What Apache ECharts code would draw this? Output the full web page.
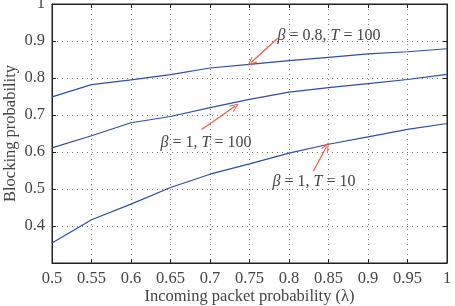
<!DOCTYPE html>
<html lang="en">
<head>
  <meta charset="UTF-8">
  <title>Blocking probability</title>
  <script src="https://cdn.jsdelivr.net/npm/echarts@6/dist/echarts.min.js"></script>
  <style>html,body{margin:0;padding:0;background:#fff;}</style>
</head>
<body>
  <div id="main" style="width:455px; height:306px;"></div>
  <script>
    // data
    var lambdas = [0.5, 0.55, 0.6, 0.65, 0.7, 0.75, 0.8, 0.85, 0.9, 0.95, 1];
    var beta08T100 = [0.749, 0.782, 0.795, 0.809, 0.827, 0.837, 0.847, 0.856, 0.865, 0.871, 0.879];
    var beta1T100 = [0.611, 0.644, 0.679, 0.696, 0.720, 0.742, 0.762, 0.774, 0.785, 0.796, 0.810];
    var beta1T10 = [0.354, 0.417, 0.459, 0.504, 0.540, 0.568, 0.597, 0.621, 0.641, 0.661, 0.677];

    var main = document.getElementById("main");
    var mychart = echarts.init(main);

    var FONT = "Liberation Serif";
    var LINE = "#2f4f9e";
    var RED = "#ec5a4e";
    var chevron = "path://M5,0 L10,10 L8.6,10 L5,2.8 L1.4,10 L0,10 Z";

    function pairs(ys) {
      return lambdas.map(function (x, i) { return [x, ys[i]]; });
    }

    function arrow(from, to) {
      return [
        { coord: from, symbol: "none" },
        { coord: to, symbol: chevron, symbolSize: [8, 9] }
      ];
    }

    function note(pos, beta, t) {
      return {
        coord: pos,
        symbolSize: 0,
        label: {
          show: true,
          position: "inside",
          fontFamily: FONT,
          fontSize: 16,
          color: "#444",
          formatter: "{i|β} = " + beta + ", {i|T} = " + t,
          rich: { i: { fontStyle: "italic", fontFamily: FONT, fontSize: 16, color: "#444" } }
        }
      };
    }

    var labelStyle = { fontFamily: FONT, fontSize: 16.5, color: "#444" };
    var gridLine = { show: true, lineStyle: { type: [1, 4], color: "#777", width: 1 } };

    var option = {
      animation: false,
      grid: {
        left: 52, right: 8, top: 4, bottom: 43, outerBoundsMode: "none",
        show: true, borderColor: "#222", borderWidth: 1
      },
      xAxis: [{
        type: "value", min: 0.5, max: 1, interval: 0.05,
        name: "Incoming packet probability (λ)", nameLocation: "middle", nameGap: 25,
        nameMoveOverlap: false,
        nameTextStyle: { fontFamily: FONT, fontSize: 16.5, color: "#444" },
        axisLine: { lineStyle: { color: "#222" } },
        axisTick: { inside: true, length: 4, lineStyle: { color: "#222" } },
        axisLabel: Object.assign({ margin: 7 }, labelStyle),
        splitLine: gridLine
      }, {
        type: "value", position: "top", min: 0.5, max: 1, interval: 0.05,
        axisLine: { lineStyle: { color: "#222" } },
        axisTick: { inside: true, length: 4, lineStyle: { color: "#222" } },
        axisLabel: { show: false }, splitLine: { show: false }
      }],
      yAxis: [{
        type: "value", min: 0.3, max: 1, interval: 0.1,
        name: "Blocking probability", nameLocation: "middle", nameGap: 33,
        nameMoveOverlap: false,
        nameTextStyle: { fontFamily: FONT, fontSize: 16.5, color: "#444" },
        axisLine: { show: true, lineStyle: { color: "#222" } },
        axisTick: { show: true, inside: true, length: 4, lineStyle: { color: "#222" } },
        axisLabel: Object.assign({
          margin: 7,
          formatter: function (v) { return v < 0.35 ? "" : +v.toFixed(1) + ""; }
        }, labelStyle),
        splitLine: gridLine
      }, {
        type: "value", position: "right", min: 0.3, max: 1, interval: 0.1,
        axisLine: { show: true, lineStyle: { color: "#222" } },
        axisTick: { show: true, inside: true, length: 4, lineStyle: { color: "#222" } },
        axisLabel: { show: false }, splitLine: { show: false }
      }],
      series: [
        {
          name: "β = 0.8, T = 100", type: "line", data: pairs(beta08T100),
          showSymbol: false, symbol: "none",
          lineStyle: { color: LINE, width: 1.2 },
          markLine: {
            silent: true, lineStyle: { color: RED, width: 1.2, type: "solid" }, label: { show: false },
            data: [
              arrow([0.7857, 0.9075], [0.752, 0.842]),
              arrow([0.6895, 0.661], [0.7316, 0.7237]),
              arrow([0.8308, 0.548], [0.8477, 0.6153])
            ]
          },
          markPoint: {
            silent: true,
            data: [
              note([0.8506, 0.9134], "0.8", "100"),
              note([0.695, 0.626], "1", "100"),
              note([0.8316, 0.519], "1", "10")
            ]
          }
        },
        {
          name: "β = 1, T = 100", type: "line", data: pairs(beta1T100),
          showSymbol: false, symbol: "none",
          lineStyle: { color: LINE, width: 1.2 }
        },
        {
          name: "β = 1, T = 10", type: "line", data: pairs(beta1T10),
          showSymbol: false, symbol: "none",
          lineStyle: { color: LINE, width: 1.2 }
        }
      ]
    };

    mychart.setOption(option);
  </script>
</body>
</html>
